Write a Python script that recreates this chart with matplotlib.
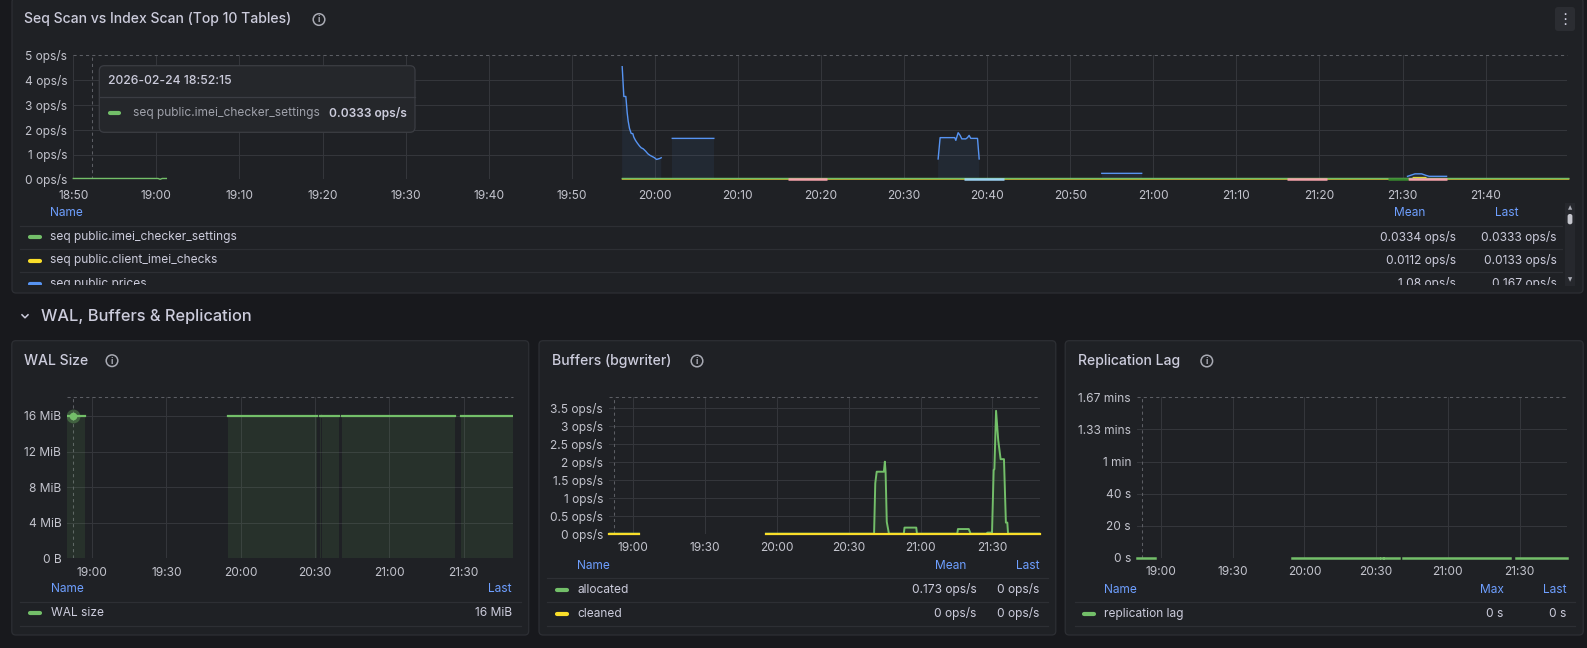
import numpy as np
import pandas as pd
import matplotlib
matplotlib.use("Agg")
import matplotlib.pyplot as plt
import matplotlib.dates as mdates
from matplotlib.patches import FancyBboxPatch, Circle, Rectangle

plt.rcParams["font.family"] = ["Inter", "DejaVu Sans"]

nan = np.nan

# ---- data: times are minutes after 18:50 on 2026-02-24 ----
# Seq Scan vs Index Scan (ops/s)
settings_t = [0, 10.2, 10.45, 10.7, 11.2, 11.3, 66.1, 180]
settings_v = [0.0333, 0.0333, 0.0, 0.0333, 0.0333, nan, 0.0333, 0.0333]

client_t = [66.1, 161.2, 161.3, 162.8, 162.9, 180]
client_v = [0.0133, 0.0133, 0.07, 0.07, 0.0133, 0.0133]

prices_t = [66.07, 66.27, 66.51, 66.59, 66.67, 66.79, 66.95, 67.15, 67.35, 67.47,
            67.67, 67.87, 68.16, 68.36, 68.6, 68.88, 69.16, 69.4, 69.68, 69.96,
            70.2, 70.4, 70.6, 70.77, 70.9,
            72.1, 77.1, 77.2,
            104.1, 104.34, 105.63, 106.1, 106.23, 106.51, 106.75, 106.95, 107.43,
            107.63, 107.83, 108.03, 108.84, 109.04, 109.2,
            123.8, 128.6, 128.7,
            160.6, 161.5, 162.3, 162.8, 163.2, 165.3]
prices_v = [4.54, 3.34, 3.34, 3.02, 2.69, 2.35, 2.05, 1.85, 1.84, 1.70,
            1.57, 1.47, 1.34, 1.27, 1.23, 1.14, 1.03, 0.97, 0.92, 0.87,
            0.80, 0.82, 0.84, 0.87, nan,
            1.65, 1.65, nan,
            0.82, 1.68, 1.68, 1.68, 1.57, 1.88, 1.77, 1.63, 1.63,
            1.68, 1.77, 1.65, 1.65, 0.82, nan,
            0.24, 0.24, nan,
            0.12, 0.22, 0.22, 0.16, 0.12, 0.12]

pink_start = [86.0, 146.1, 160.6]
pink_end = [90.7, 150.9, 165.3]
lblue_start = [107.2]
lblue_end = [112.0]
dgreen_start = [158.3]
dgreen_end = [160.6]

seq_names = ["seq public.imei_checker_settings", "seq public.client_imei_checks", "seq public.prices"]
seq_mean = ["0.0334 ops/s", "0.0112 ops/s", "1.08 ops/s"]
seq_last = ["0.0333 ops/s", "0.0133 ops/s", "0.167 ops/s"]

# WAL size (MiB)
wal_t = [0, 7.0, 7.1, 65.0, 100.9, 101.0, 102.2, 102.5, 102.6, 102.9, 109.8, 109.9,
         110.8, 156.3, 156.4, 159.0, 180]
wal_v = [16, 16, nan, 16, 16, nan, 16, 16, nan, 16, 16, nan, 16, 16, nan, 16, 16]
wal_last = "16 MiB"

# Buffers (bgwriter), ops/s
alloc_t = [0, 12.5, 12.6,
           65.5, 110.6, 111.1, 111.7, 114.7, 115.1, 115.4, 115.9, 116.8,
           123.0, 123.3, 128.2, 128.5,
           145.3, 145.6, 150.1, 150.9,
           157.8, 157.9, 159.4, 159.5,
           159.8, 160.5, 160.8, 161.5, 162.4, 163.4, 164.8, 165.6, 166.2, 166.5, 180]
alloc_v = [0, 0, nan,
           0, 0, 1.41, 1.73, 1.73, 2.01, 1.73, 0.33, 0,
           0, 0.17, 0.17, 0,
           0, 0.13, 0.13, 0,
           0, 0.03, 0.03, 0,
           0, 1.78, 1.80, 3.43, 2.61, 2.08, 2.08, 0.31, 0.31, 0, 0]
cleaned_t = [0, 12.5, 12.6, 65.5, 180]
cleaned_v = [0, 0, nan, 0, 0]
buf_names = ["allocated", "cleaned"]
buf_mean = ["0.173 ops/s", "0 ops/s"]
buf_last = ["0 ops/s", "0 ops/s"]

# Replication lag (s)
repl_t = [0, 7.5, 7.6, 65.0, 101.0, 101.1, 102.2, 102.7, 102.8, 103.2, 109.6, 109.7,
          111.1, 156.2, 156.3, 158.6, 180]
repl_v = [0, 0, nan, 0, 0, nan, 0, 0, nan, 0, 0, nan, 0, 0, nan, 0, 0]
repl_max = "0 s"
repl_last = "0 s"

# ---- style ----
PAGE = "#18191d"
PANEL = "#1f2125"
BORDER = "#2d2f34"
GRID = "#34363b"
DASH = "#5c5e64"
TEXT = "#ccccdc"
TICK = "#c3c4cd"
DIM = "#9fa1aa"
HEAD = "#6e9fff"
GREEN = "#73bf69"
YELLOW = "#fade2a"
BLUE = "#5794f2"
PINK = "#f5a3ab"
LBLUE = "#9cd2f2"
DGREEN = "#37872d"

W, H = 1587, 648
t0 = pd.Timestamp("2026-02-24 18:50")
t_end = pd.Timestamp("2026-02-24 21:49:50")
hover = pd.Timestamp("2026-02-24 18:52:15")


def at(minutes):
    return (t0 + pd.to_timedelta(np.asarray(minutes, dtype=float), unit="min")).to_numpy()


fig = plt.figure(figsize=(W / 100, H / 100), dpi=100)
fig.patch.set_facecolor(PAGE)


def px_axes(x0, y0, x1, y1, z):
    ax = fig.add_axes([x0 / W, 1 - y1 / H, (x1 - x0) / W, (y1 - y0) / H])
    ax.set_zorder(z)
    ax.set_facecolor("none")
    return ax


bg = px_axes(0, 0, W, H, 0)
bg.set_xlim(0, W)
bg.set_ylim(H, 0)
bg.axis("off")
fg = px_axes(0, 0, W, H, 5)
fg.set_xlim(0, W)
fg.set_ylim(H, 0)
fg.axis("off")


def info_icon(x, y):
    bg.add_patch(Circle((x, y), 5.8, fc="none", ec="#a8aab3", lw=1.1))
    bg.text(x, y + 0.5, "i", ha="center", va="center", color="#a8aab3", fontsize=6.5, weight="bold")


def panel(x0, y0, x1, y1, title, icon_x, title_y):
    bg.add_patch(FancyBboxPatch((x0, y0), x1 - x0, y1 - y0, boxstyle="round,pad=0,rounding_size=4",
                                fc=PANEL, ec=BORDER, lw=0.9))
    bg.text(x0 + 12.5, title_y, title, ha="left", va="center", color=TEXT, fontsize=10.1, weight="medium")
    info_icon(icon_x, title_y)


def style_chart(ax, top, yticks, ylabels, step, xpad=6):
    ax.set_xlim(t0, t_end)
    ax.set_ylim(0, top)
    for s in ax.spines.values():
        s.set_visible(False)
    ax.xaxis.set_major_locator(mdates.MinuteLocator(byminute=range(0, 60, step)))
    ax.xaxis.set_major_formatter(mdates.DateFormatter("%H:%M"))
    ax.set_yticks(yticks, ylabels)
    ax.tick_params(axis="x", length=0, labelsize=8.6, colors=TICK, pad=xpad)
    ax.tick_params(axis="y", length=0, labelsize=8.6, colors=TICK, pad=4.3)
    for y in yticks:
        if y < top:
            ax.axhline(y, color=GRID, lw=0.75, zorder=0)
    for x in ax.get_xticks():
        ax.axvline(x, color=GRID, lw=0.75, zorder=0)
    ax.axhline(top, color=DASH, lw=0.75, ls=(0, (3, 3)), clip_on=False, zorder=1)
    ax.axvline(hover, color=DASH, lw=0.75, ls=(0, (3, 3)), zorder=1)


def spans(ax, starts, ends, y, color):
    ax.hlines(np.full(len(starts), y), at(starts), at(ends), colors=color, lw=1.8, clip_on=False)


def swatch(axx, x, y, color):
    axx.plot([x + 2, x + 11.5], [y, y], color=color, lw=3, solid_capstyle="round")


# ---- top panel: Seq Scan vs Index Scan ----
panel(12, -2, 1583, 293, "Seq Scan vs Index Scan (Top 10 Tables)", 319, 19.5)
bg.add_patch(FancyBboxPatch((1555, 7), 20, 24, boxstyle="round,pad=0,rounding_size=3", fc="#2b2d32", ec="none"))
bg.text(1565, 19.5, "\u22ee", ha="center", va="center", color=TEXT, fontsize=11, family="DejaVu Sans")

ax1 = px_axes(73.3, 55.3, 1567.3, 179.3, 2)
style_chart(ax1, 5, [0, 1, 2, 3, 4, 5], [f"{i} ops/s" for i in range(6)], 10, xpad=7.5)
ax1.fill_between(at(prices_t), 0, prices_v, color=BLUE, alpha=0.07, lw=0)
ax1.plot(at(client_t), client_v, color=YELLOW, lw=1, clip_on=False)
ax1.plot(at(settings_t), settings_v, color=GREEN, lw=1, clip_on=False)
spans(ax1, pink_start, pink_end, 0.02, PINK)
spans(ax1, lblue_start, lblue_end, 0.02, LBLUE)
spans(ax1, dgreen_start, dgreen_end, 0.02, DGREEN)
ax1.plot(at(prices_t), prices_v, color=BLUE, lw=1)

# legend of the top panel (scroll area, last row cut off)
leg = px_axes(12, 200, 1563, 284.5, 4)
leg.set_xlim(12, 1563)
leg.set_ylim(284.5, 200)
leg.axis("off")
leg.text(50, 212.7, "Name", color=HEAD, fontsize=8.6, va="center")
leg.text(1425, 212.7, "Mean", color=HEAD, fontsize=8.6, va="center", ha="right")
leg.text(1519, 212.7, "Last", color=HEAD, fontsize=8.6, va="center", ha="right")
for yl in [225.5, 248.5, 272]:
    leg.plot([20, 1563], [yl, yl], color=BORDER, lw=0.9)
colors_seq = [GREEN, YELLOW, BLUE]
for i, (nm, mn, ls) in enumerate(zip(seq_names, seq_mean, seq_last)):
    y = 237 + 23.5 * i
    swatch(leg, 28, y, colors_seq[i])
    leg.text(50, y, nm, color=TEXT, fontsize=8.6, va="center", clip_on=True)
    leg.text(1456, y, mn, color=TEXT, fontsize=8.6, va="center", ha="right", clip_on=True)
    leg.text(1556.5, y, ls, color=TEXT, fontsize=8.6, va="center", ha="right", clip_on=True)

# scrollbar
fg.add_patch(Rectangle((1565.3, 202.7), 9.4, 82.8, fc="#26282d", ec="none"))
fg.add_patch(FancyBboxPatch((1567.6, 214), 4.8, 10.3, boxstyle="round,pad=0,rounding_size=2.2",
                            fc="#c4c5cc", ec="none"))
fg.text(1570, 207.5, "\u25b2", ha="center", va="center", color="#a8aab3", fontsize=4, family="DejaVu Sans")
fg.text(1570, 279.5, "\u25bc", ha="center", va="center", color="#a8aab3", fontsize=4, family="DejaVu Sans")

# tooltip
fg.add_patch(FancyBboxPatch((99.3, 65.7), 315.7, 66.6, boxstyle="round,pad=0,rounding_size=5",
                            fc="#25272b", ec="#3b3d43", lw=0.9))
fg.plot([99.8, 414.5], [96.7, 96.7], color="#3b3d43", lw=0.9)
fg.text(108.3, 80.7, "2026-02-24 18:52:15", color=TEXT, fontsize=8.8, va="center", weight="medium")
swatch(fg, 107.5, 113.3, GREEN)
fg.text(132.7, 113.3, seq_names[0], color=DIM, fontsize=8.6, va="center")
fg.text(406.8, 113.3, "0.0333 ops/s", color=TEXT, fontsize=8.6, va="center", ha="right", weight="semibold")

# ---- section header ----
bg.plot([22, 25, 28], [314.8, 317.8, 314.8], color=TEXT, lw=1.1)
bg.text(41, 316.5, "WAL, Buffers & Replication", color=TEXT, fontsize=11.8, va="center", weight="medium")

# ---- WAL Size ----
panel(11.8, 340.7, 528.7, 635, "WAL Size", 112, 360.7)
ax2 = px_axes(67.3, 397.3, 512.8, 558.3, 2)
style_chart(ax2, 18.1, [0, 4, 8, 12, 16], ["0 B", "4 MiB", "8 MiB", "12 MiB", "16 MiB"], 30)
ax2.fill_between(at(wal_t), 0, wal_v, color=GREEN, alpha=0.1, lw=0)
ax2.plot(at(wal_t), wal_v, color=GREEN, lw=1.6)
ax2.plot([hover], [16], "o", ms=10, color=GREEN, alpha=0.35, mec="none")
ax2.plot([hover], [16], "o", ms=5.5, color=GREEN, mec="none")
fg.text(50.7, 589.3, "Name", color=HEAD, fontsize=8.6, va="center")
fg.text(512, 589.3, "Last", color=HEAD, fontsize=8.6, va="center", ha="right")
for yl in [602.3, 626]:
    fg.plot([20, 520.5], [yl, yl], color=BORDER, lw=0.9)
swatch(fg, 28, 613.3, GREEN)
fg.text(50.7, 613.3, "WAL size", color=TEXT, fontsize=8.6, va="center")
fg.text(512, 613.3, wal_last, color=TEXT, fontsize=8.6, va="center", ha="right")

# ---- Buffers (bgwriter) ----
panel(539, 340.7, 1055.8, 635, "Buffers (bgwriter)", 697, 361)
ax3 = px_axes(609, 397.3, 1040, 533.7, 2)
style_chart(ax3, 3.807, [0, 0.5, 1, 1.5, 2, 2.5, 3, 3.5],
            ["0 ops/s", "0.5 ops/s", "1 ops/s", "1.5 ops/s", "2 ops/s", "2.5 ops/s", "3 ops/s", "3.5 ops/s"], 30)
ax3.fill_between(at(alloc_t), 0, alloc_v, color=GREEN, alpha=0.1, lw=0)
ax3.plot(at(alloc_t), alloc_v, color=GREEN, lw=1.4)
ax3.plot(at(cleaned_t), cleaned_v, color=YELLOW, lw=1.6, clip_on=False)
fg.text(577.3, 565.7, "Name", color=HEAD, fontsize=8.6, va="center")
fg.text(966.3, 565.7, "Mean", color=HEAD, fontsize=8.6, va="center", ha="right")
fg.text(1039.7, 565.7, "Last", color=HEAD, fontsize=8.6, va="center", ha="right")
for yl in [578.3, 602.3, 626.3]:
    fg.plot([547, 1047.8], [yl, yl], color=BORDER, lw=0.9)
for i, (nm, mn, ls) in enumerate(zip(buf_names, buf_mean, buf_last)):
    y = 589.7 + 24 * i
    swatch(fg, 555.3, y, [GREEN, YELLOW][i])
    fg.text(577.3, y, nm, color=TEXT, fontsize=8.6, va="center")
    fg.text(976.7, y, mn, color=TEXT, fontsize=8.6, va="center", ha="right")
    fg.text(1039.7, y, ls, color=TEXT, fontsize=8.6, va="center", ha="right")

# ---- Replication Lag ----
panel(1065.2, 340.7, 1583.2, 635, "Replication Lag", 1206.8, 361)
ax4 = px_axes(1137, 397.3, 1567, 558, 2)
style_chart(ax4, 100, [0, 20, 40, 60, 80, 100], ["0 s", "20 s", "40 s", "1 min", "1.33 mins", "1.67 mins"], 30)
ax4.plot(at(repl_t), repl_v, color=GREEN, lw=1.8, clip_on=False)
fg.text(1104.4, 589.7, "Name", color=HEAD, fontsize=8.6, va="center")
fg.text(1503.8, 589.7, "Max", color=HEAD, fontsize=8.6, va="center", ha="right")
fg.text(1566.4, 589.7, "Last", color=HEAD, fontsize=8.6, va="center", ha="right")
for yl in [602.3, 626.3]:
    fg.plot([1074.5, 1574.6], [yl, yl], color=BORDER, lw=0.9)
swatch(fg, 1082.4, 613.7, GREEN)
fg.text(1104.4, 613.7, "replication lag", color=TEXT, fontsize=8.6, va="center")
fg.text(1503.8, 613.7, repl_max, color=TEXT, fontsize=8.6, va="center", ha="right")
fg.text(1566.4, 613.7, repl_last, color=TEXT, fontsize=8.6, va="center", ha="right")

fig.savefig("out.png", dpi=100, facecolor=PAGE)
